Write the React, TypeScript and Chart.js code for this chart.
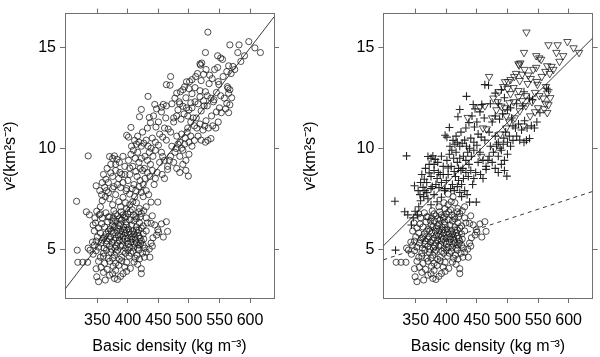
import React, { useEffect, useRef } from "react";
import { Chart, registerables } from "chart.js";

Chart.register(...registerables);

// ---- axis settings ----
const X_MIN = 297;
const X_MAX = 639.3;
const Y_MIN = 2.58;
const Y_MAX = 16.67;
const xTickValues = [350, 400, 450, 500, 550, 600];
const yTickValues = [5, 10, 15];
const xTitle = "Basic density (kg m\u207B\u00B3)";
const yTitle = "v\u00B2(km\u00B2s\u207B\u00B2)";

// ---- data: [basic density, v^2] ----
// lower group (circles in right panel)
const lowGroup: number[][] = [
  [352, 3.39], [363, 3.47], [378, 3.55], [383, 3.5], [349, 3.63], [370, 3.71], [375, 3.78], [392, 3.79],
  [388, 3.65], [422, 3.79], [398, 3.9], [360, 3.85], [380, 3.95],
  [318, 4.35], [326, 4.35], [334, 4.35], [348, 4.03], [356, 4.1], [366, 4.0], [376, 4.15], [385, 4.2],
  [395, 4.11], [404, 4.05], [410, 4.36], [422, 4.03], [380, 4.3], [362, 4.3], [352, 4.4], [398, 4.35],
  [416, 4.25], [390, 4.42], [370, 4.4],
  [343, 4.75], [348, 4.92], [355, 4.6], [360, 4.8], [368, 4.55], [372, 4.85], [378, 4.7], [383, 4.95],
  [390, 4.6], [396, 4.8], [402, 4.65], [408, 4.9], [415, 4.7], [419, 4.51], [424, 4.8], [338, 4.95],
  [365, 4.95], [386, 4.5], [400, 4.95], [430, 4.85], [412, 4.55],
  [360, 4.65], [375, 4.55], [381, 4.85], [393, 4.9], [405, 4.8], [418, 4.95], [427, 4.6], [436, 4.6],
  [335, 5.05], [345, 5.2], [348, 5.4], [352, 5.1], [356, 5.3], [361, 5.05], [365, 5.25], [370, 5.15],
  [374, 5.35], [379, 5.05], [383, 5.3], [388, 5.15], [392, 5.4], [396, 5.05], [400, 5.25], [405, 5.35],
  [410, 5.1], [414, 5.3], [418, 5.2], [422, 5.4], [428, 5.05], [435, 5.0], [438, 5.3], [358, 5.45],
  [386, 5.45], [412, 5.45], [342, 5.35], [440, 5.15],
  [373, 5.0], [377, 5.45], [381, 5.15], [391, 5.2], [395, 5.5], [399, 5.4], [403, 5.1], [407, 5.5],
  [411, 5.25], [416, 5.05], [421, 5.3], [425, 5.2],
  [350, 5.6], [355, 5.8], [360, 5.55], [364, 5.75], [368, 5.9], [372, 5.6], [376, 5.8], [380, 5.55],
  [384, 5.7], [388, 5.9], [392, 5.6], [396, 5.8], [400, 5.55], [404, 5.75], [408, 5.9], [412, 5.6],
  [416, 5.8], [420, 5.55], [425, 5.75], [430, 5.9], [441, 5.56], [450, 5.85], [465, 5.88], [345, 5.9],
  [370, 5.5], [398, 5.95], [418, 5.95],
  [362, 5.6], [366, 5.4], [373, 5.9], [382, 5.9], [387, 5.65], [390, 5.75], [394, 5.95], [402, 5.85],
  [406, 5.6], [410, 5.75], [414, 5.95], [418, 5.65], [426, 5.5], [447, 5.7], [458, 5.6],
  [352, 6.05], [357, 6.25], [362, 6.1], [367, 6.35], [371, 6.0], [375, 6.2], [380, 6.4], [384, 6.05],
  [388, 6.25], [393, 6.1], [397, 6.35], [401, 6.0], [406, 6.2], [410, 6.4], [414, 6.1], [419, 6.3],
  [425, 6.15], [432, 6.3], [438, 6.28], [449, 5.96], [455, 6.25], [463, 6.36], [347, 6.3], [390, 6.45],
  [403, 6.45], [378, 6.1], [386, 6.15], [398, 6.2], [422, 6.05], [444, 6.2],
  [358, 6.55], [364, 6.8], [370, 6.6], [377, 6.9], [383, 6.65], [389, 6.85], [395, 6.55], [400, 6.75],
  [407, 6.95], [413, 6.6], [418, 6.85], [422, 6.77], [419, 7.01], [430, 6.55], [440, 6.65], [376, 6.55],
  [368, 6.6], [374, 6.4], [380, 6.75], [386, 6.5], [392, 6.7], [397, 6.6], [404, 6.85], [409, 6.7],
  [414, 6.5], [420, 6.6], [426, 6.9], [355, 6.75],
  [398, 7.0], [403, 7.2], [408, 7.35], [411, 7.6], [403, 7.73], [430, 7.1], [414, 7.3], [396, 7.3],
  [388, 7.1]
];

// middle group (plus signs in right panel)
const midGroup: number[][] = [
  [335, 9.62], [316, 7.37], [317, 4.95], [332, 6.85], [337, 6.7], [343, 6.2], [346, 6.55], [349, 6.88],
  [353, 6.7], [355, 7.1], [358, 7.4], [348, 8.14], [354, 7.9], [357, 7.7], [362, 8.06], [365, 7.9],
  [364, 8.46], [368, 8.3], [372, 8.78], [375, 8.6], [380, 8.9], [385, 8.5], [390, 8.7], [392, 8.3],
  [388, 8.05], [370, 9.59], [375, 9.5], [378, 9.62], [382, 9.45], [386, 9.3], [380, 9.2], [392, 9.6],
  [370, 7.5], [375, 7.2], [380, 7.7], [385, 7.35], [392, 7.57], [397, 7.9], [400, 8.4], [403, 8.7],
  [360, 8.7], [366, 9.0], [372, 9.2], [377, 8.1], [383, 8.2], [387, 8.8], [395, 9.1], [398, 8.0],
  [358, 8.3], [363, 7.6], [368, 7.8], [375, 8.0], [395, 8.7],
  [398, 10.64], [401, 10.55], [405, 11.03], [411, 10.39], [414, 10.2], [418, 10.3], [422, 10.1], [426, 10.25],
  [430, 10.4], [403, 9.02], [408, 9.1], [413, 8.85], [418, 9.3], [422, 9.5], [427, 9.0], [432, 8.8],
  [437, 9.2], [410, 8.2], [415, 8.6], [420, 8.4], [425, 8.2], [430, 7.9], [422, 7.81], [425, 7.6],
  [401, 9.4], [405, 9.7], [409, 9.9], [412, 9.5], [416, 9.8], [420, 9.0], [424, 8.9], [428, 9.6],
  [432, 9.4], [435, 9.8], [436, 8.6], [407, 8.0], [413, 7.9], [418, 8.1], [428, 8.5], [434, 7.7],
  [406, 10.1], [416, 10.6], [424, 10.8], [432, 11.0],
  [438, 7.33], [449, 7.33], [445, 8.5], [441, 9.6], [445, 9.9], [450, 10.15], [455, 9.8], [460, 9.4],
  [465, 9.1], [470, 9.6], [475, 9.3], [480, 9.0], [485, 8.8], [490, 9.2], [495, 8.9], [499, 8.62],
  [485, 9.6], [490, 9.9], [495, 9.4], [500, 9.7], [440, 8.9], [443, 8.2], [448, 8.8], [452, 9.3],
  [456, 8.7], [460, 8.5], [468, 9.4], [472, 10.1], [477, 9.8], [482, 10.2], [488, 10.0], [493, 10.2],
  [433, 12.57], [463, 13.15], [469, 13.12], [422, 11.92], [419, 11.56], [447, 11.95], [437, 11.27], [446, 11.05],
  [452, 10.7], [440, 10.5], [457, 10.55], [463, 10.4], [470, 10.8], [480, 10.6], [485, 10.3], [494, 10.5],
  [475, 11.3], [480, 11.6], [487, 11.44], [492, 11.7], [500, 11.9], [509, 11.11], [528, 11.36], [532, 11.0],
  [539, 11.11], [544, 11.0], [548, 11.3], [553, 11.76], [536, 10.48], [531, 10.39], [527, 10.3], [520, 10.4],
  [515, 10.6], [509, 10.39], [505, 10.1], [500, 10.3], [497, 10.8], [503, 10.6], [507, 11.5], [513, 11.0],
  [518, 11.2], [523, 10.9], [442, 11.6], [450, 11.3],
  [444, 12.17], [458, 12.17], [485, 12.2], [480, 12.73], [495, 12.5], [525, 12.1], [536, 12.48], [541, 12.4],
  [564, 12.97], [567, 12.9], [462, 11.5], [455, 11.8], [433, 10.1], [438, 10.0], [445, 10.3], [465, 8.95],
  [472, 12.2], [490, 12.9], [505, 12.0], [515, 12.2], [527, 12.8]
];

// upper group (triangles in right panel)
const highGroup: number[][] = [
  [531, 15.75], [567, 15.12], [582, 15.12], [598, 15.28], [608, 14.97], [617, 14.74], [580, 14.74], [591, 14.58],
  [527, 14.74], [547, 14.58], [552, 14.47], [555, 14.4], [518, 14.18], [519, 14.12], [521, 14.22], [565, 14.08],
  [572, 14.05], [547, 14.0], [562, 13.8], [569, 13.7], [514, 13.7], [524, 13.66], [534, 13.62], [511, 13.55],
  [470, 13.55], [538, 13.45], [496, 13.29], [505, 13.4], [549, 13.16], [563, 13.05], [493, 13.05], [500, 12.95],
  [510, 13.0], [518, 12.85], [545, 12.76], [565, 12.72], [477, 12.48], [505, 12.7], [518, 12.55], [530, 12.6],
  [558, 12.48], [562, 12.22], [567, 12.15], [540, 12.3], [490, 12.08], [496, 12.0], [455, 12.03], [463, 12.1],
  [550, 12.0], [565, 11.76], [537, 11.6], [520, 11.85], [512, 11.5], [435, 11.52], [466, 10.95], [457, 9.59],
  [479, 9.99], [488, 10.7], [498, 11.0], [503, 11.3], [526, 11.1], [530, 12.1], [548, 13.3], [510, 12.3],
  [482, 11.9], [585, 14.3], [575, 13.9], [556, 13.55], [542, 13.9], [528, 13.9], [533, 13.2], [520, 13.35],
  [501, 13.3], [486, 12.8], [484, 12.3], [503, 12.25], [524, 12.35], [552, 12.6], [560, 11.95], [545, 11.8],
  [570, 12.5], [498, 11.6], [475, 11.5], [460, 11.0]
];

// fitted lines, end values read at the axis limits
const fitX = [X_MIN, X_MAX];
const fitAllY = [3.02, 16.51];
const fitUpperY = [5.16, 15.46];
const fitLowerY = [4.47, 7.86];

const FONT = { family: "'Liberation Sans', Arial, Helvetica, sans-serif", size: 16 };
const AXIS_COLOR = "#707070";
const INK = "rgba(25,25,25,0.85)";

const toXY = (arr: number[][]) => arr.map(([x, y]) => ({ x, y }));
const lineXY = (ys: number[]) => fitX.map((x, i) => ({ x, y: ys[i] }));

function fixedTicks(values: number[]) {
  return (scale: any) => {
    scale.ticks = values.map((v) => ({ value: v }));
  };
}

function makeOptions(yAxisWidth: number, rightPad: number): any {
  const grid = { drawOnChartArea: false, drawTicks: true, tickLength: 5, color: AXIS_COLOR, lineWidth: 1 };
  const border = { display: true, color: AXIS_COLOR, width: 1 };
  return {
    responsive: false,
    animation: false,
    devicePixelRatio: 1,
    layout: { padding: { top: 2, right: rightPad, bottom: 0, left: 0 } },
    plugins: { legend: { display: false }, tooltip: { enabled: false } },
    scales: {
      x: {
        type: "linear", position: "bottom", min: X_MIN, max: X_MAX,
        afterBuildTicks: fixedTicks(xTickValues),
        grid, border,
        ticks: { color: "#000", font: FONT, padding: 8, autoSkip: false, maxRotation: 0, minRotation: 0 },
        title: { display: true, text: xTitle, color: "#000", font: FONT, padding: { top: 0, bottom: 1 } },
        afterFit: (s: any) => { s.height = 59; },
      },
      xTop: {
        type: "linear", position: "top", min: X_MIN, max: X_MAX,
        afterBuildTicks: fixedTicks(xTickValues),
        grid, border,
        ticks: { display: false },
        afterFit: (s: any) => { s.height = 5; },
      },
      y: {
        type: "linear", position: "left", min: Y_MIN, max: Y_MAX,
        afterBuildTicks: fixedTicks(yTickValues),
        grid, border,
        ticks: { color: "#000", font: FONT, padding: 4 },
        title: { display: true, text: yTitle, color: "#000", font: FONT, padding: { top: 1, bottom: 0 } },
        afterFit: (s: any) => { s.width = yAxisWidth; },
      },
      yRight: {
        type: "linear", position: "right", min: Y_MIN, max: Y_MAX,
        afterBuildTicks: fixedTicks(yTickValues),
        grid, border,
        ticks: { display: false },
        afterFit: (s: any) => { s.width = 5; },
      },
    },
  };
}

const circleStyle = {
  pointStyle: "circle", pointRadius: 3.1, pointBorderWidth: 0.9,
  pointBorderColor: INK, pointBackgroundColor: "rgba(0,0,0,0)", showLine: false,
};

function lineDs(ys: number[], dash: number[]) {
  return {
    type: "line", data: lineXY(ys), borderColor: "#3a3a3a", borderWidth: 1, borderDash: dash,
    pointRadius: 0, fill: false, xAxisID: "x", yAxisID: "y", order: 0,
  };
}

function LeftPanel() {
  const ref = useRef<HTMLCanvasElement>(null);
  useEffect(() => {
    const chart = new Chart(ref.current as HTMLCanvasElement, {
      type: "scatter",
      data: {
        datasets: [
          { ...circleStyle, data: toXY([...lowGroup, ...midGroup, ...highGroup]) } as any,
          lineDs(fitAllY, []) as any,
        ],
      },
      options: makeOptions(65, 21),
    });
    return () => chart.destroy();
  }, []);
  return <canvas ref={ref} width={300} height={357} style={{ display: "block" }} />;
}

function RightPanel() {
  const ref = useRef<HTMLCanvasElement>(null);
  useEffect(() => {
    const chart = new Chart(ref.current as HTMLCanvasElement, {
      type: "scatter",
      data: {
        datasets: [
          { ...circleStyle, data: toXY(lowGroup) } as any,
          {
            pointStyle: "cross", pointRadius: 4, pointBorderWidth: 1.1, pointBorderColor: "rgba(15,15,15,0.9)",
            pointBackgroundColor: "rgba(0,0,0,0)", showLine: false, data: toXY(midGroup),
          } as any,
          {
            pointStyle: "triangle", pointRotation: 180, pointRadius: 4.3, pointBorderWidth: 0.9,
            pointBorderColor: INK, pointBackgroundColor: "rgba(0,0,0,0)", showLine: false, data: toXY(highGroup),
          } as any,
          lineDs(fitUpperY, []) as any,
          lineDs(fitLowerY, [4, 4]) as any,
        ],
      },
      options: makeOptions(83.3, 2.3),
    });
    return () => chart.destroy();
  }, []);
  return <canvas ref={ref} width={300} height={357} style={{ display: "block" }} />;
}

export default function App() {
  return (
    <div style={{ position: "fixed", left: 0, top: 0, width: 600, height: 357, display: "flex", background: "#fff" }}>
      <LeftPanel />
      <RightPanel />
    </div>
  );
}
